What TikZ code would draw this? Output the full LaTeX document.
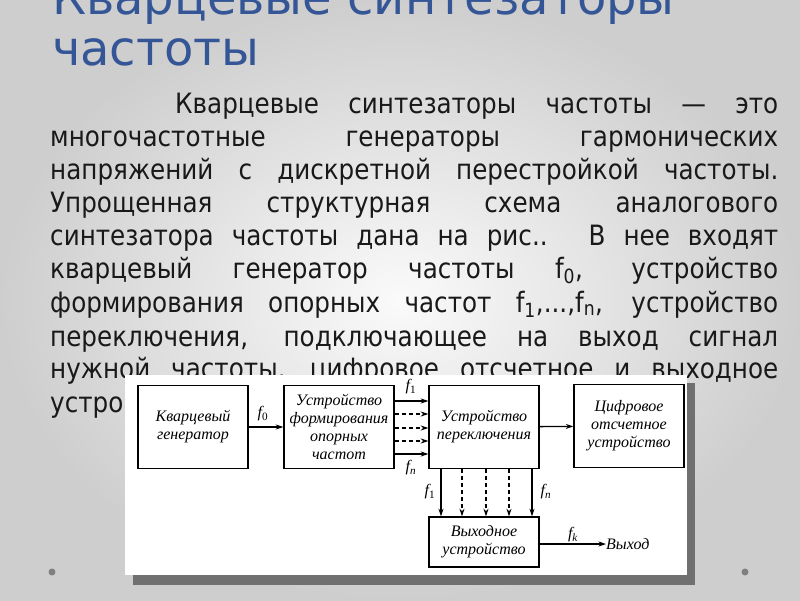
\documentclass[tikz,border=0pt]{standalone}
\usepackage{fontspec}
\setmainfont{DejaVu Sans}
\newfontfamily\bodyfont[FakeStretch=0.88]{DejaVu Sans}
\newfontfamily\diagfont{Liberation Serif}
\usetikzlibrary{arrows.meta}
\definecolor{titleblue}{RGB}{52,86,150}
\definecolor{bodytext}{RGB}{25,25,25}
\definecolor{shadowgray}{RGB}{112,112,112}
\definecolor{bulletgray}{RGB}{128,128,128}
\definecolor{bgouter}{RGB}{206,206,206}
\definecolor{bginner}{RGB}{250,250,250}
\tikzset{
  titleline/.style={anchor=base west, inner sep=0pt, text=titleblue,
                    font=\fontsize{48}{52}\selectfont},
  bodyline/.style={anchor=base west, inner sep=0pt, text=bodytext,
                   font=\bodyfont\fontsize{28}{30}\selectfont},
  block/.style={draw, line width=1.4pt, minimum width=110pt, minimum height=83pt,
                align=center, inner sep=1pt,
                font=\diagfont\itshape\fontsize{16}{18}\selectfont},
  freqlabel/.style={inner sep=0pt, font=\diagfont\itshape\fontsize{16}{18}\selectfont},
  sig/.style={line width=1.3pt, -{Stealth[length=7.5pt,width=5pt]}},
  dashsig/.style={sig, dash pattern=on 4pt off 3pt},
  bullet/.style={circle, fill=bulletgray, minimum size=7pt, inner sep=0pt}
}
\newcommand{\justline}[1]{\makebox[728pt][s]{#1}}

\begin{document}
\begin{tikzpicture}[x=1pt, y=-1pt]
  \useasboundingbox (0,0) rectangle (800,600);
  \shade[inner color=bginner, outer color=bgouter] (0,0) rectangle (800,600);

  \node[titleline] (title1) at (52, 14) {Кварцевые синтезаторы};
  \node[titleline] (title2) at (52, 65) {частоты};

  \node[bodyline] (line1) at (175, 113) {\makebox[603pt][s]{Кварцевые синтезаторы частоты — это}};
  \node[bodyline] (line2) at (50, 146) {\justline{многочастотные генераторы гармонических}};
  \node[bodyline] (line3) at (50, 179) {\justline{напряжений с дискретной перестройкой частоты.}};
  \node[bodyline] (line4) at (50, 212) {\justline{Упрощенная структурная схема аналогового}};
  \node[bodyline] (line5) at (50, 245) {\justline{синтезатора частоты дана на рис.. В нее входят}};
  \node[bodyline] (line6) at (50, 278) {\justline{кварцевый генератор частоты f\textsubscript{0}, устройство}};
  \node[bodyline] (line7) at (50, 312) {\justline{формирования опорных частот f\textsubscript{1},...,f\textsubscript{n}, устройство}};
  \node[bodyline] (line8) at (50, 346) {\justline{переключения, подключающее на выход сигнал}};
  \node[bodyline] (line9) at (50, 378) {\justline{нужной частоты, цифровое отсчетное и выходное}};
  \node[bodyline] (line10) at (50, 412) {устро};

  \fill[shadowgray] (133,383) rectangle (695,585);
  \fill[white] (125,375) rectangle (687,575);

  \node[block] (gen) at (193, 427) {Кварцевый\\генератор};
  \node[block] (form) at (339, 427) {Устройство\\формирования\\опорных\\частот};
  \node[block] (sw) at (484, 427) {Устройство\\переключения};
  \node[block] (dig) at (629, 426) {Цифровое\\отсчетное\\устройство};
  \node[block, minimum height=50pt] (out) at (484, 542) {Выходное\\устройство};
  \node[freqlabel, anchor=west] (exit) at (606, 544) {Выход};

  \draw[sig] (gen) -- (form);
  \draw[sig] (sw) -- (dig);
  \draw[sig] (out.east |- exit) -- (exit.west);

  \draw[sig] (form.east |- 0,401) -- (sw.west |- 0,401);
  \foreach \y in {414,428,441} {
    \draw[dashsig] (form.east |- 0,\y) -- (sw.west |- 0,\y);
  }
  \draw[sig] (form.east |- 0,454) -- (sw.west |- 0,454);

  \draw[sig, line width=1.7pt] (sw.south -| 441,0) -- (out.north -| 441,0);
  \foreach \x in {462,486,509} {
    \draw[dashsig] (sw.south -| \x,0) -- (out.north -| \x,0);
  }
  \draw[sig, line width=1.7pt] (sw.south -| 532,0) -- (out.north -| 532,0);

  \node[freqlabel] (f0) at (263, 414) {f\textsubscript{\upshape 0}};
  \node[freqlabel] (f1top) at (411, 387) {f\textsubscript{\upshape 1}};
  \node[freqlabel] (fntop) at (411, 468) {f\textsubscript{n}};
  \node[freqlabel] (f1low) at (430, 492) {f\textsubscript{\upshape 1}};
  \node[freqlabel] (fnlow) at (546, 492) {f\textsubscript{n}};
  \node[freqlabel] (fk) at (573, 535) {f\textsubscript{k}};

  \node[bullet] (dotleft) at (52, 572) {};
  \node[bullet] (dotright) at (745, 572) {};
\end{tikzpicture}
\end{document}
